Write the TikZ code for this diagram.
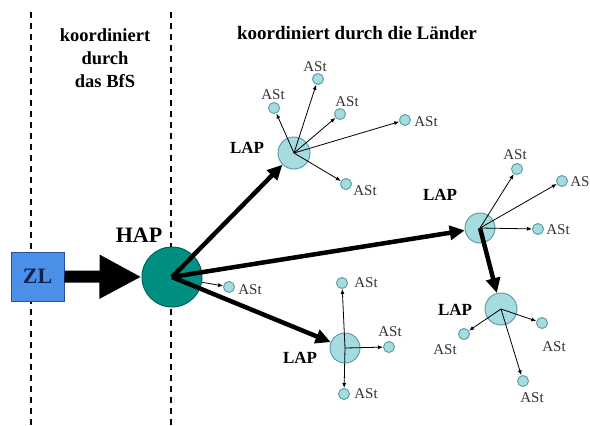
\documentclass[tikz,border=0pt]{standalone}
\usepackage{fontspec}
\setmainfont{Liberation Serif}
\usetikzlibrary{arrows.meta}
\definecolor{zlblue}{RGB}{74,143,232}
\definecolor{zlborder}{RGB}{40,80,160}
\definecolor{zltext}{RGB}{16,32,80}
\definecolor{hapteal}{RGB}{0,144,130}
\definecolor{hapborder}{RGB}{0,96,88}
\definecolor{lapfill}{RGB}{166,220,223}
\definecolor{lapborder}{RGB}{94,158,166}
\tikzset{
  divider/.style={line width=2pt,dash pattern=on 6pt off 5pt},
  lapnode/.style={circle,draw=lapborder,fill=lapfill,line width=1pt,minimum size=#1,inner sep=0pt},
  ast/.style={circle,draw=lapborder,fill=lapfill,line width=1pt,minimum size=11pt,inner sep=0pt},
  asttext/.style={font=\fontsize{15}{15}\selectfont,text=black!80,inner sep=0pt},
  boldtext/.style={font=\bfseries\fontsize{#1}{#1}\selectfont,inner sep=0pt},
  thinarrow/.style={-{Latex[length=5pt,width=4pt]},line width=0.8pt},
  lineup/.style={line width=4.5pt,-{Triangle[length=15pt,width=14pt]}},
}
\begin{document}
\begin{tikzpicture}[x=1pt,y=-1pt]
  \clip (0,0) rectangle (590,426);
  \fill[white] (0,0) rectangle (590,426);
  % Zustaendigkeitsbereiche
  \draw[divider] (31,12) -- (31,426);
  \draw[divider] (171,12) -- (171,426);
  \node[font=\bfseries\fontsize{18.5}{23}\selectfont,align=center] (bfs) at (105,58) {koordiniert\\durch\\das BfS};
  \node[boldtext=19] (laender) at (357,33) {koordiniert durch die L\"ander};
  % Zentrale Leitstelle und Hauptanlaufpunkt
  \node[draw=zlborder,fill=zlblue,line width=1pt,minimum width=53pt,minimum height=49pt,
        font=\bfseries\fontsize{22}{22}\selectfont,text=zltext] (zl) at (37.5,276.5) {ZL};
  \node[circle,draw=hapborder,fill=hapteal,line width=1pt,minimum size=60pt,inner sep=0pt] (hap) at (172,277) {};
  \node[boldtext=22] (haptext) at (139,235) {HAP};
  \draw[line width=12pt,-{Triangle[length=42pt,width=41pt]}] (zl) -- (hap);
  % Landesanlaufpunkte
  \node[lapnode=32pt] (lap1) at (294,153) {};
  \node[lapnode=30pt] (lap2) at (480,228) {};
  \node[lapnode=32pt] (lap3) at (501,309) {};
  \node[lapnode=30pt] (lap4) at (345,348) {};
  \foreach \n/\x/\y in {lap1/247/148,lap2/440/195,lap3/455/310,lap4/300/358} {
    \node[boldtext=17] (\n-t) at (\x,\y) {LAP};
  }
  % Anschlussstellen
  \foreach \n/\x/\y in {a1/274/108,a2/318/79,a3/340/114,a4/405/120,a5/346/184,h1/229/287,
                        b1/517/169,b2/562/181,b3/538/229,c1/464/334,c2/542/323,c3/523/381,
                        d1/342/283,d2/389/347,d3/344/394} {
    \node[ast] (\n) at (\x,\y) {};
  }
  \foreach \n/\x/\y in {a1/273/95,a2/315/67,a3/347/102,a4/426/122,a5/365/191,h1/250/290,
                        b1/515/155,b2/582/182,b3/558/230,c1/445/350,c2/554/347,c3/532/398,
                        d1/366/283,d2/390/332,d3/366/394} {
    \node[asttext] (\n-t) at (\x,\y) {ASt};
  }
  \foreach \s/\t in {lap1/a1,lap1/a2,lap1/a3,lap1/a4,lap1/a5,lap2/b1,lap2/b2,lap2/b3,
                     lap3/c1,lap3/c2,lap3/c3,lap4/d1,lap4/d2,lap4/d3} {
    \draw[thinarrow] (\s.center) -- (\t);
  }
  \draw[thinarrow] (hap) -- (h1);
  % Verbindungen HAP - LAP
  \draw[lineup] (hap.center) -- (lap1);
  \draw[lineup] (hap.center) -- (lap2);
  \draw[lineup] (hap.center) -- (lap4);
  \draw[lineup] (lap2.center) -- (lap3);
\end{tikzpicture}
\end{document}
